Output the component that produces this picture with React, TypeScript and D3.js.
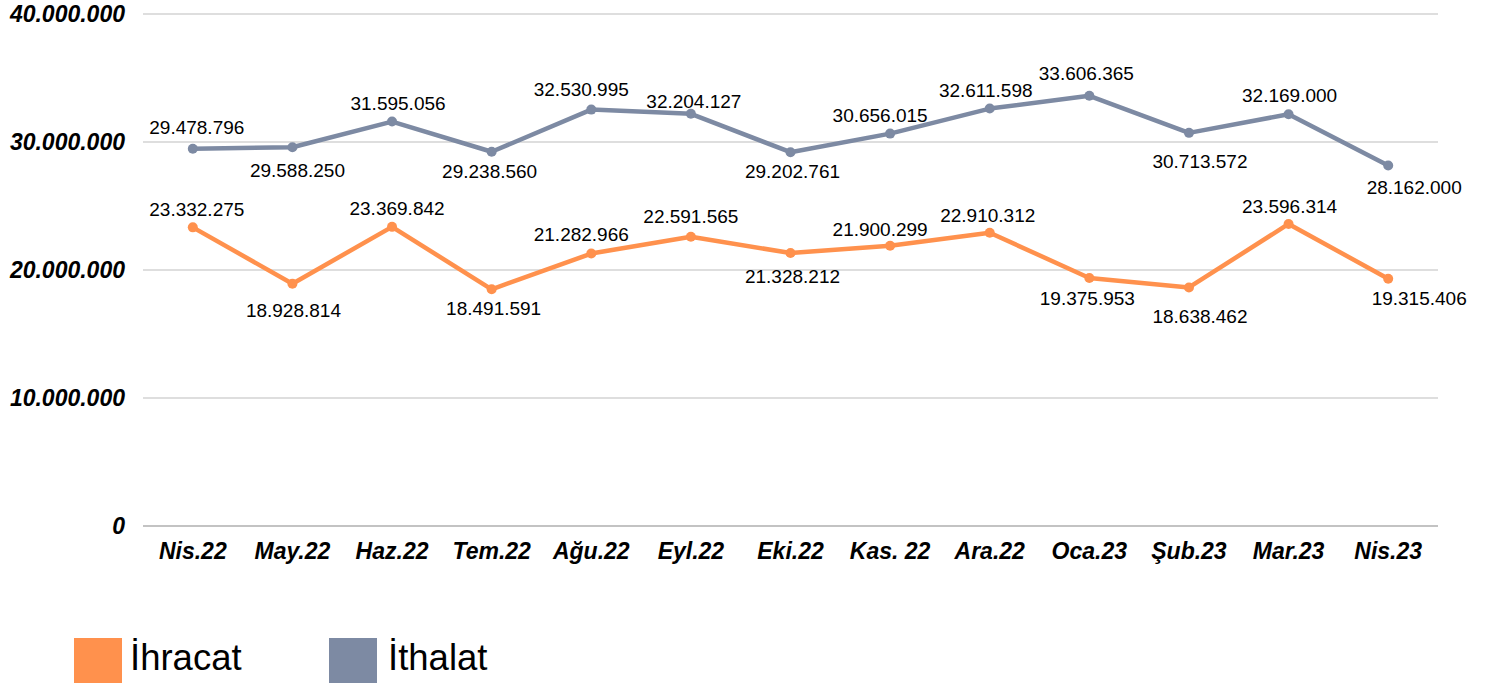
import React from "react";
import * as d3 from "d3";

const categories = ["Nis.22", "May.22", "Haz.22", "Tem.22", "Ağu.22", "Eyl.22", "Eki.22", "Kas. 22", "Ara.22", "Oca.23", "Şub.23", "Mar.23", "Nis.23"];
const ihracat = [23332275, 18928814, 23369842, 18491591, 21282966, 22591565, 21328212, 21900299, 22910312, 19375953, 18638462, 23596314, 19315406];
const ithalat = [29478796, 29588250, 31595056, 29238560, 32530995, 32204127, 29202761, 30656015, 32611598, 33606365, 30713572, 32169000, 28162000];
const yTicks = [0, 10000000, 20000000, 30000000, 40000000];

// data-label nudges (label centre relative to its point)
const ihracatLabelDx = [4, 1, 5, 2, -10, 0, 2, -10, -2, -2, 11, 1, 31];
const ihracatLabelDy = [-18, 26, -19, 19, -20, -21, 23, -17, -18, 20, 29, -18, 19];
const ithalatLabelDx = [4, 5, 6, -2, -10, 3, 2, -10, -4, -3, 11, 1, 26];
const ithalatLabelDy = [-22, 23, -19, 19, -21, -13, 19, -19, -19, -23, 28, -19, 21];

const W = 1485, H = 683;
const FONT = "'Liberation Sans', Arial, sans-serif";
const ORANGE = "#FF914D";
const GRAY = "#7D8AA3";

const fmt = (v: number) => String(v).replace(/\B(?=(\d{3})+(?!\d))/g, ".");

export default function App() {
  const x = d3.scalePoint<string>().domain(categories).range([143, 1438]).padding(0.5);
  const y = d3.scaleLinear().domain([0, 40000000]).range([526, 14]);
  const line = d3.line<number>().x((_, i) => x(categories[i])!).y(d => y(d));

  const series = [
    { name: "İthalat", data: ithalat, dx: ithalatLabelDx, dy: ithalatLabelDy, color: GRAY },
    { name: "İhracat", data: ihracat, dx: ihracatLabelDx, dy: ihracatLabelDy, color: ORANGE },
  ];

  return (
    <svg width={W} height={H} style={{ position: "absolute", left: 0, top: 0, fontFamily: FONT }}>
      <rect width={W} height={H} fill="#fff" />
      {yTicks.map(t => (
        <g key={t}>
          <line x1={143} x2={1438} y1={y(t)} y2={y(t)} stroke={t === 0 ? "#888" : "#bdbdbd"} strokeWidth={1.2} />
          <text x={125} y={y(t) + 8} textAnchor="end" fontSize={23} fontWeight="bold" fontStyle="italic" fill="#000">{fmt(t)}</text>
        </g>
      ))}
      {categories.map(c => (
        <text key={c} x={x(c)} y={559} textAnchor="middle" fontSize={23} fontWeight="bold" fontStyle="italic" fill="#000">{c}</text>
      ))}
      {series.map(s => (
        <g key={s.name}>
          <path d={line(s.data)!} fill="none" stroke={s.color} strokeWidth={4.5} strokeLinejoin="round" />
          {s.data.map((v, i) => (
            <circle key={i} cx={x(categories[i])} cy={y(v)} r={5} fill={s.color} />
          ))}
          {s.data.map((v, i) => (
            <text key={"t" + i} x={x(categories[i])! + s.dx[i]} y={y(v) + s.dy[i] + 7} textAnchor="middle" fontSize={19} fill="#000">{fmt(v)}</text>
          ))}
        </g>
      ))}
      <rect x={74} y={638} width={48} height={48} fill={ORANGE} />
      <text x={130} y={670} fontSize={36.5} fill="#000">İhracat</text>
      <rect x={329} y={638} width={48} height={48} fill={GRAY} />
      <text x={388} y={670} fontSize={36.5} fill="#000">İthalat</text>
    </svg>
  );
}
